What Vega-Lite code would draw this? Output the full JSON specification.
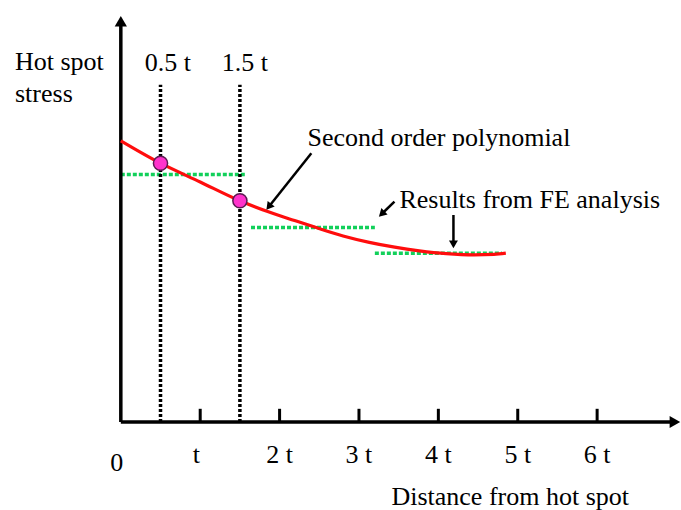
{
  "$schema": "https://vega.github.io/schema/vega-lite/v6.json",
  "width": 681,
  "height": 510,
  "autosize": {"type": "fit", "contains": "padding"},
  "padding": 0,
  "background": "white",
  "config": {"view": {"stroke": null}},
  "datasets": {
    "axes": [
      {"x": 0, "y": 0, "x2": 0, "y2": 10.0},
      {"x": 0, "y": 0, "x2": 6.98, "y2": 0}
    ],
    "heads": [
      {"x": 0, "y": 10.02, "dir": "up"},
      {"x": 6.98, "y": 0, "dir": "right"}
    ],
    "ticks": [
      {"x": 1, "y": 0, "y2": 0.33},
      {"x": 2, "y": 0, "y2": 0.33},
      {"x": 3, "y": 0, "y2": 0.33},
      {"x": 4, "y": 0, "y2": 0.33},
      {"x": 5, "y": 0, "y2": 0.33},
      {"x": 6, "y": 0, "y2": 0.33}
    ],
    "tickLabels": [
      {"x": -0.05, "y": -1.225, "label": "0"},
      {"x": 0.95, "y": -1.025, "label": "t"},
      {"x": 2, "y": -1.025, "label": "2 t"},
      {"x": 3, "y": -1.025, "label": "3 t"},
      {"x": 4, "y": -1.025, "label": "4 t"},
      {"x": 5, "y": -1.025, "label": "5 t"},
      {"x": 6, "y": -1.025, "label": "6 t"}
    ],
    "notes": [
      {"x": -1.333, "y": 8.81, "label": "Hot spot"},
      {"x": -1.333, "y": 7.99, "label": "stress"},
      {"x": 0.302, "y": 8.78, "label": "0.5 t"},
      {"x": 1.27, "y": 8.78, "label": "1.5 t"},
      {"x": 2.352, "y": 6.9, "label": "Second order polynomial"},
      {"x": 3.509, "y": 5.34, "label": "Results from FE analysis"},
      {"x": 3.409, "y": -2.075, "label": "Distance from hot spot"}
    ],
    "guides": [
      {"x": 0.5, "y": 0, "y2": 8.43},
      {"x": 1.5, "y": 0, "y2": 8.43}
    ],
    "fe": [
      {"x": 0, "x2": 1.57, "y": 6.19},
      {"x": 1.64, "x2": 3.2, "y": 4.86},
      {"x": 3.2, "x2": 4.8, "y": 4.22}
    ],
    "curve": [
      {"x": 0, "y": 7.03},
      {"x": 0.5, "y": 6.47},
      {"x": 1.0, "y": 6.0},
      {"x": 1.5, "y": 5.53},
      {"x": 1.85, "y": 5.26},
      {"x": 2.2, "y": 5.03},
      {"x": 2.46, "y": 4.86},
      {"x": 2.8, "y": 4.65},
      {"x": 3.13, "y": 4.49},
      {"x": 3.45, "y": 4.37},
      {"x": 3.76, "y": 4.28},
      {"x": 4.1, "y": 4.21},
      {"x": 4.45, "y": 4.18},
      {"x": 4.7, "y": 4.19},
      {"x": 4.85, "y": 4.22}
    ],
    "points": [
      {"x": 0.5, "y": 6.47},
      {"x": 1.5, "y": 5.53}
    ],
    "arrows": [
      {"name": "poly", "x": 2.4, "y": 6.72, "x2": 1.864, "y2": 5.38},
      {"name": "fe1", "x": 3.447, "y": 5.51, "x2": 3.286, "y2": 5.2},
      {"name": "fe2", "x": 4.19, "y": 5.175, "x2": 4.19, "y2": 4.44}
    ]
  },
  "encoding": {
    "x": {"field": "x", "type": "quantitative", "scale": {"domain": [-1.522, 7.044], "nice": false, "zero": false}, "axis": null},
    "y": {"field": "y", "type": "quantitative", "scale": {"domain": [-2.2, 10.55], "nice": false, "zero": false}, "axis": null}
  },
  "layer": [
    {
      "data": {"name": "fe"},
      "mark": {"type": "rule", "color": "#12d05a", "strokeWidth": 3.5, "strokeDash": [4, 2]},
      "encoding": {"x2": {"field": "x2"}}
    },
    {
      "data": {"name": "guides"},
      "mark": {"type": "rule", "color": "black", "strokeWidth": 3.5, "strokeDash": [3, 2]},
      "encoding": {"y2": {"field": "y2"}}
    },
    {
      "data": {"name": "axes"},
      "mark": {"type": "rule", "color": "black", "strokeWidth": 3.5},
      "encoding": {"x2": {"field": "x2"}, "y2": {"field": "y2"}}
    },
    {
      "data": {"name": "heads"},
      "mark": {"type": "point", "filled": true, "color": "black", "size": 150, "opacity": 1},
      "encoding": {
        "shape": {"field": "dir", "type": "nominal", "scale": {"domain": ["up", "right"], "range": ["triangle-up", "triangle-right"]}, "legend": null}
      }
    },
    {
      "data": {"name": "ticks"},
      "mark": {"type": "rule", "color": "black", "strokeWidth": 3},
      "encoding": {"y2": {"field": "y2"}}
    },
    {
      "data": {"name": "curve"},
      "mark": {"type": "line", "color": "#ff0d0d", "strokeWidth": 3.2, "interpolate": "monotone"}
    },
    {
      "data": {"name": "points"},
      "mark": {"type": "point", "filled": true, "fill": "#ff33cc", "stroke": "#5a1a50", "strokeWidth": 1.5, "size": 200, "opacity": 1, "fillOpacity": 1}
    },
    {
      "data": {"name": "arrows"},
      "mark": {"type": "rule", "color": "black", "strokeWidth": 2.5},
      "encoding": {"x2": {"field": "x2"}, "y2": {"field": "y2"}}
    },
    {
      "data": {"name": "arrows"},
      "transform": [{"filter": "datum.name === 'poly'"}],
      "mark": {"type": "point", "shape": "triangle-up", "filled": true, "color": "black", "size": 80, "opacity": 1, "angle": 218},
      "encoding": {"x": {"field": "x2", "type": "quantitative"}, "y": {"field": "y2", "type": "quantitative"}}
    },
    {
      "data": {"name": "arrows"},
      "transform": [{"filter": "datum.name === 'fe1'"}],
      "mark": {"type": "point", "shape": "triangle-up", "filled": true, "color": "black", "size": 80, "opacity": 1, "angle": 226},
      "encoding": {"x": {"field": "x2", "type": "quantitative"}, "y": {"field": "y2", "type": "quantitative"}}
    },
    {
      "data": {"name": "arrows"},
      "transform": [{"filter": "datum.name === 'fe2'"}],
      "mark": {"type": "point", "shape": "triangle-up", "filled": true, "color": "black", "size": 80, "opacity": 1, "angle": 180},
      "encoding": {"x": {"field": "x2", "type": "quantitative"}, "y": {"field": "y2", "type": "quantitative"}}
    },
    {
      "data": {"name": "notes"},
      "mark": {"type": "text", "align": "left", "baseline": "alphabetic", "font": "Liberation Serif", "fontSize": 26, "color": "black"},
      "encoding": {"text": {"field": "label"}}
    },
    {
      "data": {"name": "tickLabels"},
      "mark": {"type": "text", "align": "center", "baseline": "alphabetic", "font": "Liberation Serif", "fontSize": 26, "color": "black"},
      "encoding": {"text": {"field": "label"}}
    }
  ]
}
